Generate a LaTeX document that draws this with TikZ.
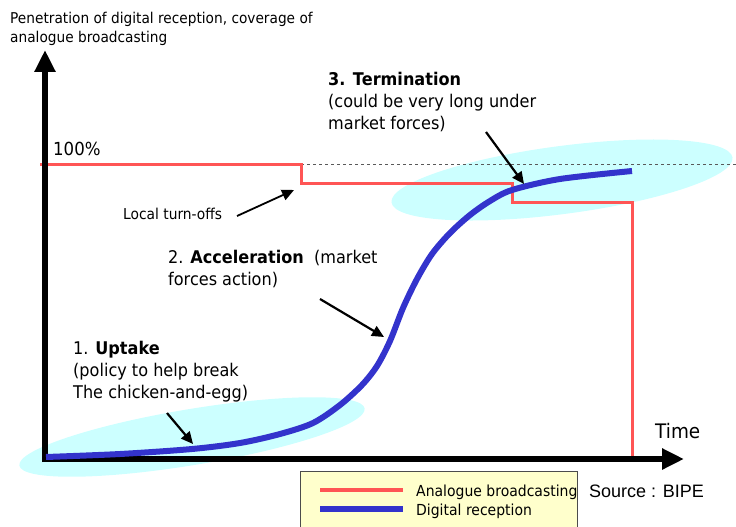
\documentclass[tikz,border=0pt]{standalone}
\usepackage{fontspec}
\setmainfont{DejaVu Sans}[FakeStretch=0.92]
\newfontfamily\srcfont{Liberation Sans}
\usetikzlibrary{arrows.meta}
\definecolor{analog}{RGB}{255,85,85}
\definecolor{digital}{RGB}{51,51,204}
\definecolor{zone}{RGB}{204,255,255}
\definecolor{legendbg}{RGB}{255,255,204}
\tikzset{
  axis/.style={line width=6pt,-{Triangle[length=22pt,width=20pt]}},
  pointer/.style={line width=2.2pt,-{Triangle[length=12pt,width=11pt]}},
  lbl/.style={anchor=base west,inner sep=0pt,font=\fontsize{17.5}{22}\selectfont,align=left},
  small/.style={anchor=base west,inner sep=0pt,font=\fontsize{15}{19}\selectfont,align=left},
  analogline/.style={analog,line width=3pt},
  digitalline/.style={digital,line width=6pt,line cap=butt},
}
\begin{document}
\begin{tikzpicture}[x=1pt,y=-1pt]
\useasboundingbox (0,0) rectangle (736,527);

% shaded phases
\fill[zone,rotate around={9.4:(192,437)}] (192,437) ellipse (175 and 28);
\fill[zone,rotate around={7.5:(562,180)}] (562,180) ellipse (172 and 34);

% 100% reference level
\coordinate (lvlA) at (301,164);
\coordinate (lvlB) at (736,164);
\draw[gray!70!black,dashed,line width=0.8pt] (lvlA) -- (lvlB);

% analogue coverage
\coordinate (r0) at (40,164);
\coordinate (r1) at (301,164);
\coordinate (r2) at (301,183);
\coordinate (r3) at (512,183);
\coordinate (r4) at (512,202);
\coordinate (r5) at (632,202);
\coordinate (r6) at (632,458);
\draw[analogline] (r0) -- (r1) -- (r2) -- (r3) -- (r4) -- (r5) -- (r6);

% axes
\coordinate (origin) at (45,462);
\coordinate (ytip) at (45,50);
\coordinate (xstart) at (42,459);
\coordinate (xtip) at (684,459);
\draw[axis] (origin) -- (ytip);
\draw[axis] (xstart) -- (xtip);

% digital penetration
\draw[digitalline] plot[smooth,tension=0.5] coordinates {
  (46,457) (120,454) (192,449) (240,443) (280,434) (313,423) (340,405)
  (362,385) (377,366) (390,341) (403,308) (417,279) (432,254) (450,233)
  (470,215) (490,201) (512,190) (560,179) (632,171)};

% labels
\node[small,font=\fontsize{14.9}{19}\selectfont] (ytitle) at (10,43)
  {Penetration of digital reception, coverage of\\analogue broadcasting};
\node[anchor=base west,inner sep=0pt,font=\fontsize{18}{20}\selectfont] (hundred) at (53,155) {100\%};
\node[small] (local) at (123,219) {Local turn-offs};
\node[lbl] (term) at (328,129)
  {\textbf{3. Termination}\\(could be very long under\\market forces)};
\node[lbl] (accel) at (168,285)
  {2. \textbf{Acceleration}~ (market\\forces action)};
\node[lbl] (uptake) at (73,398)
  {1. \textbf{Uptake}\\(policy to help break\\The chicken-and-egg)};
\node[anchor=base west,inner sep=0pt,font=\fontsize{20}{22}\selectfont] (time) at (655,438) {Time};

% pointers
\coordinate (pLocalA) at (237,216);
\coordinate (pLocalB) at (294,190);
\draw[pointer,line width=1.8pt] (pLocalA) -- (pLocalB);
\coordinate (pTermA) at (486,132);
\coordinate (pTermB) at (524,184);
\draw[pointer] (pTermA) -- (pTermB);
\coordinate (pAccA) at (320,299);
\coordinate (pAccB) at (384,337);
\draw[pointer] (pAccA) -- (pAccB);
\coordinate (pUpA) at (167,413);
\coordinate (pUpB) at (193,444);
\draw[pointer] (pUpA) -- (pUpB);

% legend
\node[draw=black!70,fill=legendbg,line width=0.8pt,minimum width=277pt,minimum height=60pt,
  anchor=north west,inner sep=0pt] (legend) at (300,471) {};
\coordinate (la1) at (320,490);
\coordinate (la2) at (403,490);
\coordinate (ld1) at (320,509);
\coordinate (ld2) at (403,509);
\draw[analogline,line width=3.5pt] (la1) -- (la2);
\draw[digitalline] (ld1) -- (ld2);
\node[small,font=\fontsize{15.2}{19}\selectfont] (legA) at (416,496) {Analogue broadcasting};
\node[small,font=\fontsize{15.2}{19}\selectfont] (legD) at (416,515) {Digital reception};
\node[anchor=base west,inner sep=0pt,font=\srcfont\fontsize{18}{20}\selectfont] (source) at (589,497) {Source : BIPE};
\end{tikzpicture}
\end{document}
